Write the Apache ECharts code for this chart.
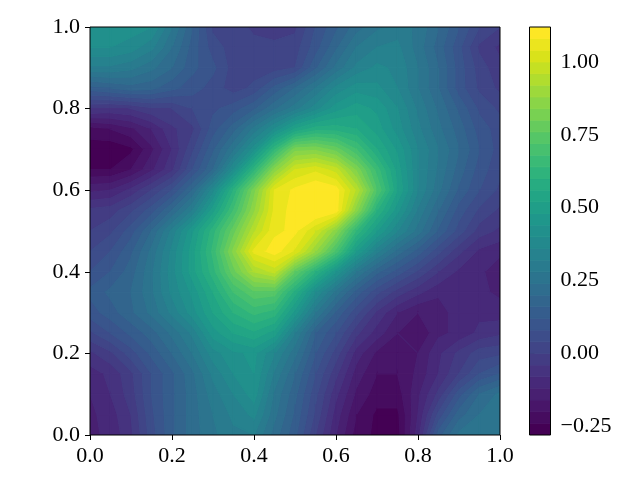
<!DOCTYPE html>
<html>
<head>
<meta charset="utf-8">
<style>
  html, body { margin: 0; padding: 0; background: #fff; }
  #chart { width: 640px; height: 480px; }
</style>
<script src="https://cdn.jsdelivr.net/npm/echarts@6/dist/echarts.min.js"></script>
</head>
<body>
<div id="chart"></div>
<script>
var xValues = [0, 0.05, 0.1, 0.15, 0.2, 0.25, 0.3, 0.35, 0.4, 0.45, 0.5, 0.55, 0.6, 0.65, 0.7, 0.75, 0.8, 0.85, 0.9, 0.95, 1]
var yValues = [1, 0.95, 0.9, 0.85, 0.8, 0.75, 0.7, 0.65, 0.6, 0.55, 0.5, 0.45, 0.4, 0.35, 0.3, 0.25, 0.2, 0.15, 0.1, 0.05, 0]
// one row per y value
var zRows = [
  [.42, .42, .42, .40, .28, .16, .03, .02, -.01, -.02, -.01, .08, .15, .22, .27, .30, .27, .20, .12, .04, .00],
  [.40, .40, .38, .33, .24, .14, .06, .02, .015, .01, .02, .10, .19, .28, .32, .33, .26, .18, .09, -.01, -.05],
  [.31, .31, .29, .25, .20, .13, .09, .02, .02, .02, .04, .15, .25, .33, .37, .35, .28, .20, .10, .02, -.03],
  [.14, .16, .18, .17, .13, .10, .06, .02, .05, .13, .20, .28, .37, .42, .41, .36, .28, .20, .10, .03, -.01],
  [-.04, -.05, -.04, -.01, .00, .04, .07, .10, .15, .23, .30, .38, .46, .50, .47, .40, .31, .23, .15, .07, .03],
  [-.22, -.20, -.17, -.12, -.05, -.01, .10, .18, .29, .40, .52, .58, .58, .56, .50, .42, .33, .25, .18, .10, .06],
  [-.26, -.27, -.25, -.17, -.08, .03, .15, .27, .42, .63, .82, .83, .78, .68, .56, .47, .36, .28, .20, .12, .06],
  [-.24, -.24, -.20, -.13, -.05, .08, .20, .40, .62, .85, 1.00, 1.03, .98, .83, .66, .50, .36, .27, .18, .10, .05],
  [-.13, -.12, -.07, .00, .08, .20, .38, .60, .82, 1.04, 1.09, 1.12, 1.10, .95, .72, .52, .36, .25, .15, .08, .03],
  [-.03, -.02, .03, .10, .20, .32, .50, .68, .87, 1.05, 1.10, 1.13, 1.10, .85, .60, .45, .31, .20, .10, .03, -.01],
  [.00, .03, .10, .20, .33, .47, .62, .78, .95, 1.07, 1.09, 1.00, .85, .63, .48, .36, .26, .15, .06, -.02, -.05],
  [.04, .08, .15, .25, .37, .50, .65, .85, 1.05, 1.10, 1.03, .88, .70, .48, .33, .22, .14, .05, -.03, -.09, -.11],
  [.08, .12, .18, .27, .38, .50, .62, .78, .92, .97, .76, .60, .44, .28, .17, .10, .03, -.04, -.09, -.11, -.15],
  [.13, .17, .20, .27, .37, .45, .56, .68, .75, .74, .58, .40, .26, .14, .05, -.02, -.07, -.11, -.11, -.11, -.13],
  [.10, .14, .19, .25, .33, .42, .52, .60, .65, .62, .46, .28, .15, .05, -.05, -.12, -.16, -.15, -.09, -.09, -.10],
  [.03, .08, .13, .18, .25, .33, .46, .52, .55, .50, .32, .16, .08, -.03, -.10, -.16, -.20, -.13, -.11, -.07, -.05],
  [-.05, -.01, .06, .13, .20, .28, .38, .43, .45, .36, .25, .12, .02, -.10, -.17, -.20, -.16, -.09, -.03, .02, .03],
  [-.10, -.07, -.01, .08, .15, .23, .33, .40, .44, .31, .20, .08, -.03, -.14, -.20, -.20, -.15, -.08, .00, .08, .12],
  [-.12, -.08, -.02, .08, .15, .22, .30, .36, .42, .27, .17, .05, -.07, -.17, -.22, -.22, -.13, -.03, .10, .20, .25],
  [-.13, -.10, -.04, .07, .15, .22, .28, .33, .37, .25, .15, .03, -.10, -.20, -.25, -.25, -.12, .05, .18, .24, .27],
  [-.13, -.11, -.05, .06, .15, .22, .27, .31, .32, .22, .13, .00, -.12, -.22, -.25, -.26, -.10, .14, .25, .27, .28]
]
var levelMin = -0.28
var levelStep = 0.04
var levelCount = 35
var xTicks = [0, 0.2, 0.4, 0.6, 0.8, 1]
var yTicks = [0, 0.2, 0.4, 0.6, 0.8, 1]
var barTicks = [-0.25, 0, 0.25, 0.5, 0.75, 1]
var viridis = ['#440154', '#481467', '#482576', '#453781', '#404688', '#39558c', '#33638d', '#2d718e', '#287d8e', '#238a8d', '#1f968b', '#20a386', '#29af7f', '#3dbc74', '#56c667', '#75d054', '#95d840', '#bade28', '#dde318', '#fde725']

var fontName = '"Liberation Serif", "Times New Roman", serif'

function hexToRgb (hex) {
  return [parseInt(hex.substr(1, 2), 16), parseInt(hex.substr(3, 2), 16), parseInt(hex.substr(5, 2), 16)]
}

// colour of band i, sampled from viridis like a contourf norm does
function bandColor (i) {
  var t = i / (levelCount - 1) * (viridis.length - 1)
  var k = Math.min(Math.floor(t), viridis.length - 2)
  var a = hexToRgb(viridis[k])
  var b = hexToRgb(viridis[k + 1])
  var f = t - k
  return 'rgb(' + [0, 1, 2].map(function (c) {
    return Math.round(a[c] + (b[c] - a[c]) * f)
  }).join(',') + ')'
}

// keep the part of a polygon [x, y, z] on one side of a z level
function clipZ (poly, level, keepAbove) {
  var out = []
  for (var i = 0; i < poly.length; i++) {
    var p = poly[i]
    var q = poly[(i + 1) % poly.length]
    var pIn = keepAbove ? p[2] >= level : p[2] <= level
    var qIn = keepAbove ? q[2] >= level : q[2] <= level
    if (pIn) out.push(p)
    if (pIn !== qIn) {
      var f = (level - p[2]) / (q[2] - p[2])
      out.push([p[0] + (q[0] - p[0]) * f, p[1] + (q[1] - p[1]) * f, level])
    }
  }
  return out
}

var cells = []
for (var r = 0; r < yValues.length - 1; r++) {
  for (var c = 0; c < xValues.length - 1; c++) {
    cells.push([r, c])
  }
}

function renderContourCell (params, api) {
  var r = api.value(0)
  var c = api.value(1)
  var quad = [
    [xValues[c], yValues[r], zRows[r][c]],
    [xValues[c + 1], yValues[r], zRows[r][c + 1]],
    [xValues[c + 1], yValues[r + 1], zRows[r + 1][c + 1]],
    [xValues[c], yValues[r + 1], zRows[r + 1][c]]
  ]
  var children = []
  for (var i = 0; i < levelCount; i++) {
    var lo = levelMin + i * levelStep
    var hi = lo + levelStep
    // lowest and highest bands take in whatever is left over
    var poly = i === 0 ? quad : clipZ(quad, lo, true)
    if (i !== levelCount - 1 && poly.length) poly = clipZ(poly, hi, false)
    if (poly.length < 3) continue
    var color = bandColor(i)
    children.push({
      type: 'polygon',
      shape: {
        points: poly.map(function (p) { return api.coord([p[0], p[1]]) })
      },
      style: { fill: color, stroke: color, lineWidth: 1.2 }
    })
  }
  return { type: 'group', children: children }
}

function renderBarBand (params, api) {
  var i = api.value(0)
  var lo = levelMin + i * levelStep
  var p0 = api.coord([0, lo + levelStep])
  var p1 = api.coord([1, lo])
  return {
    type: 'rect',
    shape: { x: p0[0], y: p0[1], width: p1[0] - p0[0], height: p1[1] - p0[1] },
    style: { fill: bandColor(i), stroke: bandColor(i), lineWidth: 0.8 }
  }
}

var bandIndex = []
for (var b = 0; b < levelCount; b++) bandIndex.push([b])

var tickLabel = { color: '#000', fontFamily: fontName, fontSize: 22, margin: 10 }
var gridFrame = { show: true, z: 5, backgroundColor: 'transparent', borderColor: '#000', borderWidth: 1 }

var chart = echarts.init(document.getElementById('chart'), null, { renderer: 'canvas' })
chart.setOption({
  animation: false,
  backgroundColor: '#fff',
  grid: [
    Object.assign({ left: 90, top: 27, width: 410, height: 408 }, gridFrame),
    Object.assign({ left: 529.5, top: 27, width: 21, height: 408 }, gridFrame)
  ],
  xAxis: [{
    type: 'value',
    gridIndex: 0,
    min: 0,
    max: 1,
    splitLine: { show: false },
    axisLine: { show: false },
    axisTick: { show: true, length: 5, inside: false, lineStyle: { color: '#000' }, customValues: xTicks },
    axisLabel: Object.assign({ customValues: xTicks, hideOverlap: false, formatter: function (v) { return v.toFixed(1) } }, tickLabel)
  }, {
    type: 'value',
    gridIndex: 1,
    min: 0,
    max: 1,
    show: false
  }],
  yAxis: [{
    type: 'value',
    gridIndex: 0,
    min: 0,
    max: 1,
    splitLine: { show: false },
    axisLine: { show: false },
    axisTick: { show: true, length: 5, lineStyle: { color: '#000' }, customValues: yTicks },
    axisLabel: Object.assign({ customValues: yTicks, hideOverlap: false, formatter: function (v) { return v.toFixed(1) } }, tickLabel)
  }, {
    type: 'value',
    gridIndex: 1,
    position: 'right',
    min: levelMin,
    max: levelMin + levelCount * levelStep,
    splitLine: { show: false },
    axisLine: { show: false },
    axisTick: { show: true, length: 5, lineStyle: { color: '#000' }, customValues: barTicks },
    axisLabel: Object.assign({
      customValues: barTicks,
      hideOverlap: false,
      formatter: function (v) { return v.toFixed(2).replace('-', '\u2212') }
    }, tickLabel)
  }],
  series: [{
    type: 'custom',
    xAxisIndex: 0,
    yAxisIndex: 0,
    coordinateSystem: 'cartesian2d',
    clip: true,
    silent: true,
    renderItem: renderContourCell,
    encode: { x: 1, y: 0 },
    data: cells
  }, {
    type: 'custom',
    xAxisIndex: 1,
    yAxisIndex: 1,
    coordinateSystem: 'cartesian2d',
    clip: true,
    silent: true,
    renderItem: renderBarBand,
    data: bandIndex
  }]
})
</script>
</body>
</html>
